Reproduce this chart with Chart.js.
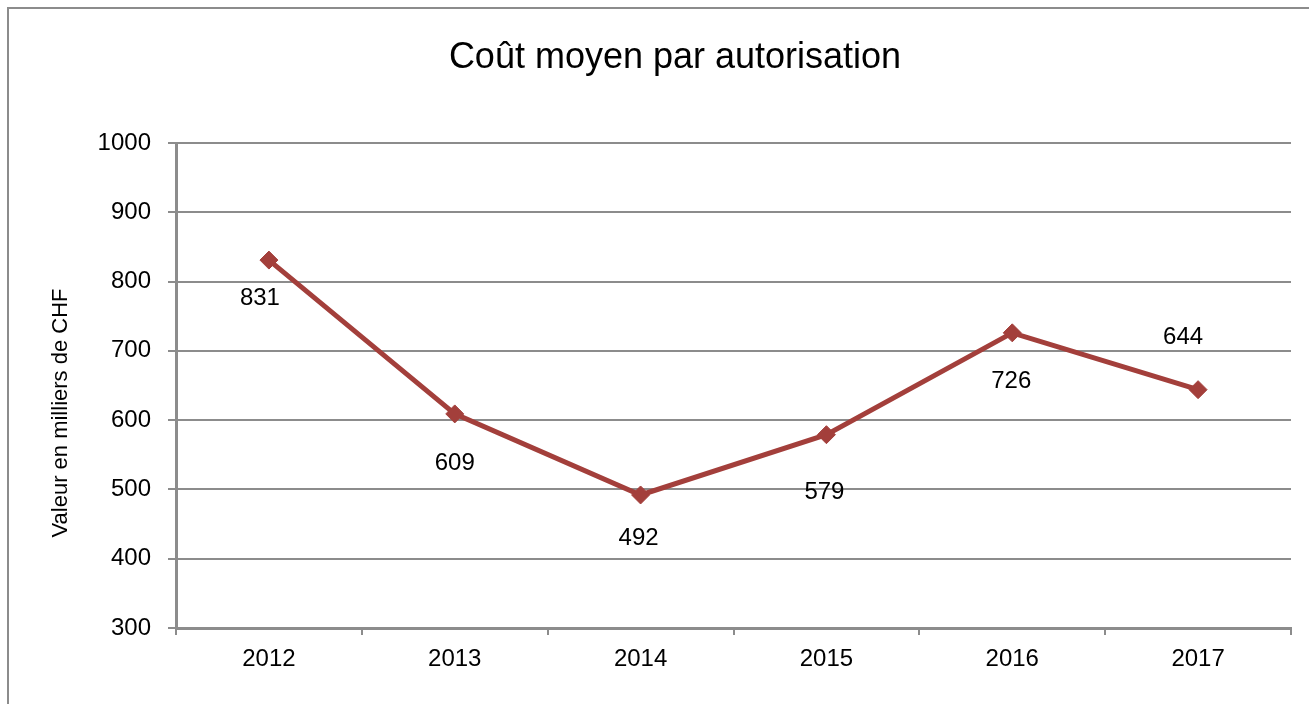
<!DOCTYPE html>
<html lang="fr">
<head>
<meta charset="utf-8">
<title>Coût moyen par autorisation</title>
<script src="https://cdn.jsdelivr.net/npm/chart.js@4.4.1/dist/chart.umd.min.js"></script>
<style>
  html, body { margin: 0; padding: 0; background: #fff; }
  #wrap { width: 1309px; height: 704px; position: relative; }
</style>
</head>
<body>
<div id="wrap"><canvas id="cout-chart" width="1309" height="704"></canvas></div>
<script>
  // années
  const years = ['2012', '2013', '2014', '2015', '2016', '2017'];
  // coût moyen (milliers de CHF)
  const coutMoyen = [831, 609, 492, 579, 726, 644];
  // graduations de l'axe vertical
  const yTicks = [300, 400, 500, 600, 700, 800, 900, 1000];

  const chartTitle = 'Coût moyen par autorisation';
  const yTitle = 'Valeur en milliers de CHF';

  const lineColor = '#a33f3b';
  const gridColor = '#8c8c8c';
  const fontFamily = '"Liberation Sans", Arial, sans-serif';

  // où placer chaque étiquette par rapport à son point (dx, dy)
  const labelOffsets = [[-9, 38], [0, 49], [-2, 43], [-2, 58], [-1, 49], [-15, -52]];

  // cadre, titres et étiquettes de valeurs
  const decorPlugin = {
    id: 'decor',
    beforeDraw(chart) {
      const ctx = chart.ctx;
      ctx.save();
      ctx.strokeStyle = gridColor;
      ctx.lineWidth = 2;
      ctx.beginPath();
      ctx.moveTo(8, 704);
      ctx.lineTo(8, 8);
      ctx.lineTo(1309, 8);
      ctx.stroke();
      ctx.restore();
    },
    afterDraw(chart) {
      const ctx = chart.ctx;
      ctx.save();
      ctx.fillStyle = '#000';
      ctx.textAlign = 'center';
      ctx.textBaseline = 'middle';
      ctx.font = '36px ' + fontFamily;
      ctx.fillText(chartTitle, 675, 58);
      ctx.translate(61, 413);
      ctx.rotate(-Math.PI / 2);
      ctx.font = '22px ' + fontFamily;
      ctx.fillText(yTitle, 0, 0);
      ctx.restore();

      const meta = chart.getDatasetMeta(0);
      ctx.save();
      ctx.fillStyle = '#000';
      ctx.font = '24px ' + fontFamily;
      ctx.textAlign = 'center';
      ctx.textBaseline = 'middle';
      meta.data.forEach((pt, i) => {
        const off = labelOffsets[i];
        ctx.fillText(String(coutMoyen[i]), pt.x + off[0], pt.y + off[1]);
      });
      ctx.restore();
    },
  };

  const ctx = document.getElementById('cout-chart').getContext('2d');
  new Chart(ctx, {
    type: 'line',
    data: {
      labels: years,
      datasets: [
        {
          label: 'Coût moyen',
          data: coutMoyen,
          borderColor: lineColor,
          backgroundColor: lineColor,
          borderWidth: 5,
          pointStyle: 'rectRot',
          pointRadius: 9,
          pointBackgroundColor: lineColor,
          pointBorderColor: lineColor,
          pointBorderWidth: 1,
          tension: 0,
          fill: false,
        },
      ],
    },
    options: {
      responsive: false,
      animation: false,
      layout: { padding: { left: 0, right: 18, top: 143, bottom: 0 } },
      plugins: {
        legend: { display: false },
        tooltip: { enabled: false },
        title: { display: false },
      },
      scales: {
        x: {
          offset: true,
          grid: {
            offset: true,
            drawOnChartArea: false,
            drawTicks: true,
            tickLength: 7,
            color: gridColor,
            lineWidth: 2,
          },
          border: { display: true, color: gridColor, width: 3 },
          ticks: {
            color: '#000',
            font: { family: fontFamily, size: 24 },
            padding: 10,
            maxRotation: 0,
          },
          afterFit(scale) { scale.height = 76; },
        },
        y: {
          min: yTicks[0],
          max: yTicks[yTicks.length - 1],
          afterBuildTicks(scale) { scale.ticks = yTicks.map(v => ({ value: v })); },
          grid: {
            color: gridColor,
            lineWidth: 2,
            drawTicks: true,
            tickLength: 8,
          },
          border: { display: true, color: gridColor, width: 3 },
          ticks: {
            color: '#000',
            font: { family: fontFamily, size: 24 },
            padding: 17,
            callback: (v) => String(v),
          },
          afterFit(scale) { scale.width = 176; },
        },
      },
    },
    plugins: [decorPlugin],
  });
</script>
</body>
</html>
